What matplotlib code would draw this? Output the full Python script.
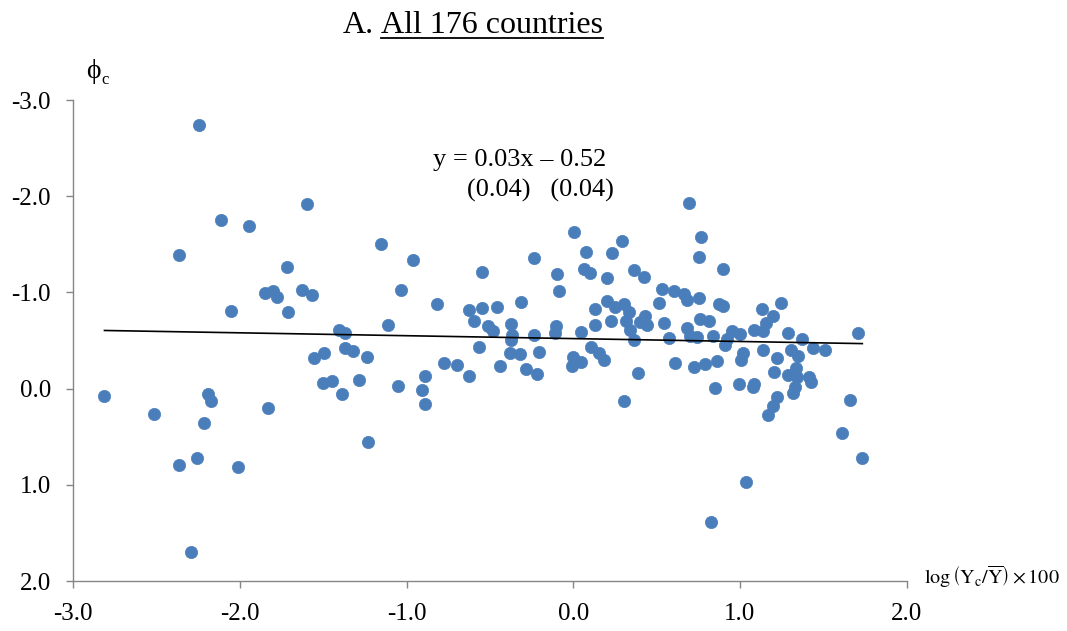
import matplotlib.pyplot as plt
from matplotlib.ticker import FormatStrFormatter, MultipleLocator
from matplotlib.lines import Line2D

plt.rcParams['font.family'] = 'Liberation Serif'
plt.rcParams['mathtext.fontset'] = 'stix'
plt.rcParams['axes.unicode_minus'] = False

# relative income (log deviation x 100) and phi_c per country
income = [
    -2.247, -1.595, -2.113, -1.944, -2.368, -1.716, -1.850, -1.800, -1.780, -1.627,
    -1.565, -2.053, -1.709,
    -2.813, -2.516, -2.193, -2.175, -2.217, -1.832, -2.368, -2.255, -2.010, -2.295,
    -1.555, -1.493, -1.499, -1.447,
    -1.152, -0.961, -1.035, -0.819, -1.114, -0.548, -0.237, -0.100, -0.084, -0.628,
    -0.550, -0.459, -0.315, -0.598, -0.512, -0.480, -0.371, -0.365, -0.373, -0.237,
    -0.106, -0.108, -0.203, -0.381, -0.317, -0.566, -0.440, -0.283, -0.219, -0.776,
    -0.700, -0.628, -0.891, -0.905, -0.891, -1.053, -1.232, -1.407, -1.372, -1.368,
    -1.324, -1.236, -1.288, -1.386,
    0.694, 0.006, 0.764, 0.291, 0.076, 0.231, 0.754, 0.064, 0.098, 0.365,
    0.423, 0.203, 0.534, 0.606, 0.662, 0.680, 0.752, 0.516, 0.203, 0.251,
    0.303, 0.128, 0.337, 0.225, 0.317, 0.343, 0.400, 0.431, 0.443, 0.367,
    0.132, 0.542, 0.760, 0.815, 0.682, 0.698, 0.740, 0.574, 0.839, 0.048,
    0.108, 0.152, 0.187, 0.000, 0.044, -0.008, 0.608, 0.722, 0.791, 0.861,
    0.389, 0.851, 0.303,
    0.899, 0.875, 0.899, 1.130, 1.244, 1.198, 1.154, 0.955, 1.001, 1.084,
    1.140, 0.925, 0.913, 1.288, 1.371, 1.709, 1.021, 1.009, 1.138, 1.222,
    1.306, 1.350, 1.437, 1.513, 1.206, 1.334, 1.286, 1.344, 1.417, 1.425,
    1.332, 1.316, 0.997, 1.077, 1.082, 1.224, 1.196, 1.168, 1.658,
    1.611, 1.734, 1.039, 0.825,
]
phi = [
    -2.74, -1.916, -1.75, -1.69, -1.39, -1.26, -0.99, -1.01, -0.95, -1.03,
    -0.97, -0.81, -0.80,
    0.076, 0.26, 0.055, 0.125, 0.36, 0.20, 0.79, 0.72, 0.81, 1.70,
    -0.32, -0.37, -0.055, -0.083,
    -1.50, -1.34, -1.03, -0.88, -0.665, -1.21, -1.36, -1.195, -1.01, -0.82,
    -0.84, -0.85, -0.90, -0.70, -0.655, -0.596, -0.676, -0.56, -0.506, -0.56,
    -0.65, -0.58, -0.38, -0.37, -0.356, -0.43, -0.235, -0.205, -0.156, -0.27,
    -0.25, -0.128, -0.135, 0.01, 0.156, -0.028, 0.56, -0.61, -0.575, -0.426,
    -0.388, -0.33, -0.086, 0.055,
    -1.93, -1.625, -1.577, -1.53, -1.42, -1.41, -1.37, -1.245, -1.206, -1.234,
    -1.157, -1.147, -1.032, -1.019, -0.984, -0.925, -0.943, -0.887, -0.908, -0.852,
    -0.88, -0.83, -0.793, -0.707, -0.707, -0.613, -0.69, -0.759, -0.665, -0.506,
    -0.662, -0.679, -0.724, -0.707, -0.634, -0.551, -0.533, -0.53, -0.551, -0.585,
    -0.437, -0.367, -0.298, -0.326, -0.28, -0.24, -0.27, -0.229, -0.253, -0.284,
    -0.166, -0.01, 0.132,
    -1.24, -0.884, -0.86, -0.828, -0.887, -0.759, -0.683, -0.603, -0.568, -0.61,
    -0.596, -0.516, -0.457, -0.582, -0.516, -0.582, -0.374, -0.294, -0.405, -0.315,
    -0.398, -0.336, -0.419, -0.402, -0.17, -0.215, -0.146, -0.118, -0.125, -0.066,
    -0.014, 0.042, -0.049, -0.02, -0.05, 0.09, 0.177, 0.273, 0.114,
    0.464, 0.724, 0.974, 1.383,
]

slope = 0.03
intercept = -0.52

fig = plt.figure(figsize=(10.67, 6.31), dpi=100)
ax = fig.add_axes([0.0687, 0.0792, 0.781, 0.7623])

ax.scatter(income, phi, s=78, color='#4a7ebb', edgecolors='#4a7ebb', linewidths=0.5, zorder=3)

x0, x1 = min(income), max(income)
ax.plot([x0, x1], [slope * x0 + intercept, slope * x1 + intercept], color='black', lw=1.2, zorder=4)

ax.set_xlim(-3.0, 2.0)
ax.set_ylim(2.0, -3.0)
ax.xaxis.set_major_locator(MultipleLocator(1.0))
ax.yaxis.set_major_locator(MultipleLocator(1.0))
ax.xaxis.set_major_formatter(FormatStrFormatter('%.1f'))
ax.yaxis.set_major_formatter(FormatStrFormatter('%.1f'))

for side in ['top', 'right']:
    ax.spines[side].set_visible(False)
for side in ['left', 'bottom']:
    ax.spines[side].set_color('#868686')
    ax.spines[side].set_linewidth(1.0)
ax.tick_params(axis='both', direction='out', length=5, width=1.0, color='#868686', labelsize=18)
ax.tick_params(axis='x', pad=11)
ax.tick_params(axis='y', pad=11)

# title, with the second part underlined
fig.text(343 / 1067, 0.947, 'A.', fontsize=23, va='baseline', ha='left')
t = fig.text(381 / 1067, 0.947, 'All 176 countries', fontsize=23, va='baseline', ha='left')
fig.canvas.draw()
bb = t.get_window_extent().transformed(fig.transFigure.inverted())
fig.add_artist(Line2D([bb.x0, bb.x1], [0.947 - 0.008, 0.947 - 0.008], color='black', lw=1.3,
                      transform=fig.transFigure))

# axis labels
fig.text(93 / 1067, 1 - 72 / 631, 'ϕ', fontsize=20, ha='center', va='center')
fig.text(101 / 1067, 1 - 80 / 631, 'c', fontsize=12, ha='left', va='center')
fig.text(924 / 1067, 1 - 577 / 631, r'$\log\left(\mathrm{Y_c}/\overline{\mathrm{Y}}\right)\times100$',
         fontsize=14.5, ha='left', va='center')

# regression line equation
fig.text(433 / 1067, 1 - 160 / 631, 'y = 0.03x – 0.52', fontsize=19, ha='left', va='center')
fig.text(467 / 1067, 1 - 190 / 631, '(0.04)   (0.04)', fontsize=19, ha='left', va='center')

fig.savefig('out.png', dpi=100)
